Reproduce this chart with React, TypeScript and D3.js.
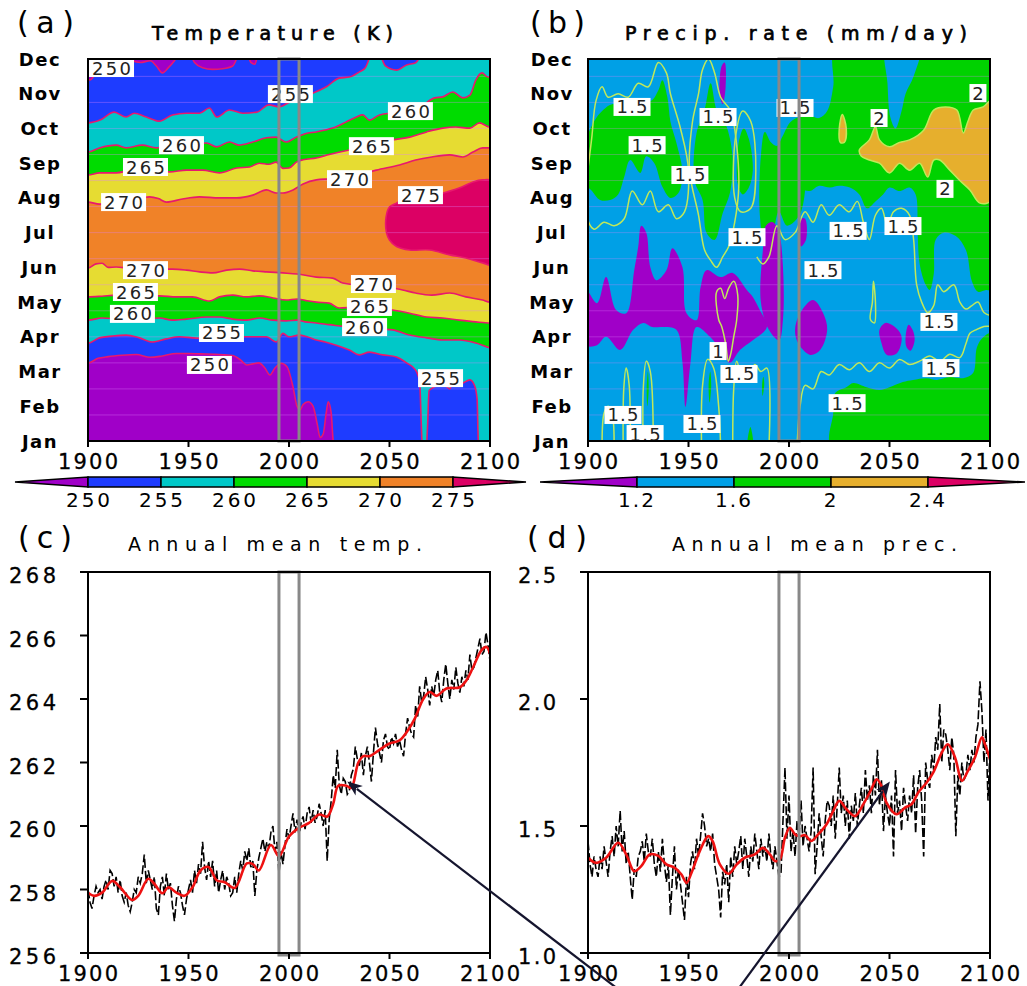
import React from 'react';
import * as d3 from 'd3';

type P = [number, number];

// ---------- axis / tick values ----------
const MONTHS = ['Jan', 'Feb', 'Mar', 'Apr', 'May', 'Jun', 'Jul', 'Aug', 'Sep', 'Oct', 'Nov', 'Dec'];
const YEAR_TICKS = [1900, 1950, 2000, 2050, 2100];
const TEMP_TICKS = [256, 258, 260, 262, 264, 266, 268];
const PREC_TICKS = [1.0, 1.5, 2.0, 2.5];
const PREC_TICK_LABELS = ['1.0', '1.5', '2.0', '2.5'];
const CB_A_LEVELS = [250, 255, 260, 265, 270, 275];
const CB_B_LEVELS = [1.2, 1.6, 2.0, 2.4];
const CB_B_LABELS = ['1.2', '1.6', '2', '2.4'];
const BOX_YEARS = [1995, 2005];

// ---------- colours ----------
const A_COLORS = ['#a000c8', '#1e3cff', '#00c8c8', '#00dc00', '#e6dc32', '#f08228', '#dc0064'];
const B_COLORS = ['#a000c8', '#00a0e6', '#00d200', '#e6af2d', '#dc0064'];

// ---------- (a) temperature contour boundaries [year, month] ----------
const T250S: P[] = [[1897,3.25],[1900,3.25],[1905,3.38],[1910,3.43],[1917,3.47],[1924,3.49],[1931,3.41],[1937,3.45],[1944,3.52],[1950,3.52],[1956,3.51],[1963,3.5],[1968,3.48],[1972,3.46],[1976,3.33],[1979,3.19],[1982,3.22],[1985,3.25],[1988,3.1],[1990.5,2.9],[1993,3.1],[1996,3.24],[1999,3.14],[2002,2.56],[2004,2.0],[2005.5,1.9],[2007,2.05],[2009.5,2.13],[2012,2.0],[2014,1.5],[2015.5,1.1],[2017,1.2],[2018.5,1.8],[2019.5,2.13],[2021,1.8],[2022,1.0],[2023,0.8],[2103,0.8]];
const T255S: P[] = [[1897,3.82],[1900,3.82],[1905.7,3.97],[1912,4.02],[1919,4.05],[1925.6,3.97],[1932,3.85],[1939,3.94],[1945.5,4.0],[1952,3.97],[1958,3.95],[1965,4.05],[1972,4.0],[1978.7,4.0],[1985.3,4.0],[1988.8,4.0],[1993.6,3.85],[1997,4.1],[2000,4.0],[2005,4.05],[2009,4.0],[2013.6,3.91],[2018,3.85],[2023.5,3.76],[2030,3.62],[2035,3.48],[2040,3.56],[2046.6,3.48],[2053.5,3.42],[2058.5,3.25],[2063,3.04],[2065,2.7],[2065.8,1.5],[2066.3,0.8],[2068.3,0.8],[2069,1.5],[2069.7,2.45],[2072,2.55],[2075,2.6],[2078,2.58],[2080,2.5],[2081,2.62],[2084,2.62],[2086.5,2.67],[2090,2.76],[2092.3,2.6],[2093.6,2.2],[2094,1.3],[2094.3,0.8],[2103,0.8]];
const T260S: P[] = [[1897,4.48],[1900,4.48],[1907,4.54],[1914,4.52],[1921,4.5],[1928,4.52],[1935.6,4.54],[1942,4.48],[1949,4.51],[1959,4.57],[1965.4,4.57],[1972,4.51],[1978.7,4.48],[1985.3,4.54],[1992,4.48],[1998.6,4.46],[2004,4.48],[2008,4.43],[2013.6,4.4],[2020,4.35],[2027,4.3],[2033,4.25],[2040,4.25],[2046,4.22],[2051.5,4.2],[2060,4.05],[2068.5,3.97],[2076.5,3.91],[2084.8,3.91],[2093,3.82],[2100,3.68],[2103,3.65]];
const T265S: P[] = [[1897,5.15],[1900,5.15],[1907,5.17],[1914,5.2],[1921,5.2],[1928,5.18],[1935.6,5.18],[1944,5.15],[1952,5.15],[1960.4,5.03],[1965.4,5.15],[1972,5.2],[1978.7,5.15],[1985.3,5.18],[1992,5.12],[1998.6,5.06],[2004,5.09],[2008,5.05],[2013.6,5.0],[2020,4.97],[2025,4.83],[2032,4.85],[2040,4.86],[2046,4.8],[2051.5,4.77],[2060,4.68],[2068.5,4.57],[2076.5,4.54],[2084.8,4.48],[2093,4.43],[2100,4.4],[2103,4.4]];
const T270S: P[] = [[1897,5.98],[1900,5.98],[1904,6.1],[1907,6.12],[1910,6.0],[1914,6.01],[1920,5.98],[1928,5.96],[1935,5.95],[1942,5.95],[1949,5.92],[1955.5,5.87],[1962,5.84],[1969,5.92],[1975.4,5.95],[1982,5.9],[1988.8,5.87],[1997,5.84],[2004,5.81],[2013.6,5.72],[2021.7,5.69],[2026.7,5.55],[2034,5.5],[2042,5.52],[2050,5.42],[2056.5,5.35],[2063,5.26],[2071,5.2],[2080,5.26],[2088,5.15],[2096.3,5.06],[2100,5.0],[2103,5.0]];
const T270A: P[] = [[1897,7.88],[1900,7.88],[1905.7,7.82],[1912,7.85],[1920,7.9],[1930.6,8.03],[1935,7.98],[1939,7.88],[1947,7.97],[1955.5,8.03],[1965.4,8.0],[1974,8.0],[1982,8.08],[1988.8,8.23],[1993.6,8.14],[1997,8.14],[2002,8.23],[2007,8.4],[2013.6,8.52],[2020,8.55],[2030,8.6],[2037,8.7],[2043.4,8.8],[2055,8.95],[2063,9.09],[2071,9.18],[2079.9,9.24],[2086.5,9.18],[2091.5,9.32],[2096.3,9.44],[2100,9.44],[2103,9.44]];
const T265A: P[] = [[1897,8.66],[1900,8.66],[1905.7,8.72],[1914,8.72],[1921,8.8],[1929,8.85],[1935,8.8],[1940.5,8.75],[1949,8.8],[1957,8.8],[1965.4,8.72],[1974,8.86],[1980.4,8.89],[1985.3,9.0],[1990,8.97],[1993.6,9.03],[1997,8.85],[2000,8.86],[2003.6,9.03],[2007,9.1],[2013.6,9.15],[2020,9.25],[2030,9.38],[2041,9.49],[2051.5,9.67],[2060,9.75],[2068.5,9.9],[2076.5,10.01],[2083,10.04],[2090,10.01],[2094.8,10.16],[2100,10.04],[2103,10.04]];
const T260A: P[] = [[1897,9.32],[1900,9.32],[1905.7,9.44],[1914,9.52],[1919,9.44],[1927,9.52],[1934,9.44],[1940,9.5],[1946,9.52],[1952,9.55],[1959,9.58],[1964,9.47],[1970.4,9.61],[1975,9.52],[1982,9.61],[1988.8,9.73],[1993.6,9.75],[1998.6,9.61],[2003.6,9.75],[2008,9.85],[2013.6,9.9],[2021.7,10.01],[2028.5,10.19],[2033.5,10.33],[2036.7,10.39],[2040,10.24],[2045,10.39],[2052,10.45],[2060,10.5],[2066,10.65],[2072.5,10.88],[2076.5,10.91],[2081.5,11.05],[2086.5,10.88],[2090,10.96],[2093,11.4],[2096,11.6],[2099,11.48],[2103,11.48]];
const T255A: P[] = [[1897,10.16],[1900,10.16],[1906,10.24],[1913,10.47],[1919,10.33],[1923,10.44],[1929,10.33],[1935.6,10.21],[1942,10.39],[1949,10.44],[1955.5,10.44],[1960.4,10.59],[1964,10.33],[1970.4,10.53],[1977,10.44],[1984,10.47],[1990,10.68],[1995,10.62],[2000,10.75],[2006,10.9],[2012,11.02],[2018.6,11.2],[2025,11.45],[2030,11.48],[2035,11.63],[2038,11.75],[2041,12.1],[2045,12.1],[2048,11.8],[2053.5,11.68],[2058.5,11.83],[2063,11.89],[2066,12.1],[2103,12.1]];
const T250A: P[] = [[1897,11.4],[1901,11.4],[1904,11.7],[1906,12.2],[1920,12.2],[1922,11.95],[1926,11.9],[1931,11.95],[1934,11.8],[1937,11.6],[1940,11.75],[1943,11.95],[1946,12.2],[1950,12.2],[1953,11.9],[1957,11.75],[1962,11.7],[1967,11.72],[1972,11.8],[1976,12.2],[1979,12.2],[1981,11.9],[1983,11.85],[1985,12.2],[2103,12.2]];
const T275: P[] = [[2048.5,7.0],[2048.3,7.45],[2050,7.74],[2053.5,7.85],[2060,8.03],[2070,8.03],[2078.5,8.17],[2085,8.29],[2091.5,8.46],[2096.3,8.52],[2102,8.46],[2102,6.07],[2096.3,6.13],[2088,6.27],[2080,6.36],[2070,6.5],[2060,6.5],[2053.5,6.6],[2050,6.79]];

// labels on (a): [year, month, text]
const A_LABELS: [number, number, string][] = [
  [1911.7,11.74,'250'],[2000.7,10.99,'255'],[2060.4,10.5,'260'],[1946.5,9.52,'260'],[1928.6,8.89,'265'],[2041,9.49,'265'],
  [1917.7,7.88,'270'],[2030.1,8.54,'270'],[2065.4,8.08,'275'],[1928.6,5.92,'270'],[1923.6,5.29,'265'],[1922.1,4.66,'260'],
  [1966.4,4.11,'255'],[1960.4,3.19,'250'],[2042,5.52,'270'],[2040,4.86,'265'],[2037.6,4.28,'260'],[2075.4,2.81,'255'],
];

// ---------- (b) precipitation regions [year, month] ----------
const B_GREEN: P[][] = [
  [[1899,8.4],[1899,9.6],[1903,10.2],[1907.5,10.53],[1912,10.7],[1916,10.62],[1922,10.53],[1927,10.7],[1932,10.82],[1935,11.1],[1937,11.39],[1939.5,10.9],[1941,10.2],[1944,9.58],[1947,8.72],[1945,8.14],[1941,8.0],[1937,8.32],[1933,9.0],[1929,9.2],[1926,8.72],[1921,9.09],[1918,8.6],[1915,8.1],[1911,7.94],[1906,7.94],[1902,8.2]],
  [[1953,8.5],[1954,9.87],[1958,10.53],[1961,11.3],[1964,10.53],[1969,10.04],[1972,9.09],[1970.6,8.14],[1967,7.56],[1963,6.79],[1959,6.99],[1957,7.94]],
  [[1974.5,8.4],[1975,9.6],[1977.5,10.0],[1980,9.7],[1982,8.8],[1980,8.3],[1977,8.1]],
  [[1985.5,7.5],[1986,9.2],[1988,9.9],[1991,9.6],[1994,9.5],[1997,9.8],[2001,10.2],[2006,10.3],[2006,7.6],[1999,7.2],[1995,7.6],[1991,6.8],[1988,6.7]],
  [[2024,12.4],[2101,12.4],[2101,5.35],[2098,5.35],[2094,5.3],[2091,5.6],[2088,6.5],[2083,6.9],[2077,7.0],[2073,6.8],[2072,5.8],[2070,5.35],[2068,5.5],[2065,6.1],[2064,7.0],[2063,8.1],[2060,8.3],[2055,8.2],[2050,8.3],[2046.8,8.1],[2043,7.9],[2038.8,7.7],[2035,8.1],[2030.3,8.3],[2025,8.35],[2020.4,8.3],[2015,8.35],[2010.4,8.2],[2006,8.3],[2006,10.6],[2010,10.4],[2015,10.3],[2019,10.5],[2022,11.2]],
  [[2021.5,0.8],[2022,1.8],[2023,2.38],[2028.5,2.55],[2032,2.67],[2038.6,2.55],[2045,2.47],[2050,2.55],[2056.6,2.7],[2061.7,2.76],[2068.5,2.81],[2073.6,2.76],[2080,2.84],[2086.6,2.81],[2091.6,2.96],[2093.5,3.7],[2096.6,3.99],[2101,4.1],[2101,0.8]],
  [[1929.5,2.0],[1930.2,2.5],[1929.8,3.0],[1929.2,2.5]],
  [[1960.5,2.1],[1961.3,2.6],[1960.8,3.0],[1960.0,2.6]],
  [[1979.5,0.8],[1980.8,1.4],[1982,0.8]],
  [[1986.9,2.3],[1987.7,2.65],[1987.2,2.85],[1986.6,2.6]],
];
const B_BLUE_HOLES: P[][] = [
  [[2048.5,12.4],[2049,11.3],[2050.5,10.3],[2053,10.0],[2056,10.5],[2058,11.0],[2062,11.5],[2065,12.4]],
];
const B_ORANGE: P[][] = [
  [[2035,9.38],[2040,9.67],[2043,10.05],[2045,9.67],[2050,9.47],[2055,9.6],[2060,9.67],[2067,9.95],[2072,10.53],[2078,10.62],[2083.5,10.53],[2086.7,9.87],[2089,10.2],[2091.7,10.53],[2096.6,10.62],[2101,10.82],[2101,7.94],[2095,7.85],[2090,8.23],[2085,8.5],[2080,8.8],[2075,9.09],[2072,9.09],[2069,8.6],[2065,9.0],[2060,8.8],[2055,9.0],[2050,8.72],[2045,9.0],[2040,9.09],[2036,9.2]],
  [[2025,10.0],[2026.5,10.4],[2028.5,10.0],[2027.5,9.6],[2025.5,9.6]],
];
const B_PURPLE: P[][] = [
  [[1899,5.35],[1904.5,4.97],[1909,5.72],[1914,4.77],[1919,4.68],[1923,5.92],[1925,6.6],[1926.5,7.2],[1929,7.0],[1931,6.0],[1934,5.63],[1939,5.92],[1942,6.55],[1947,6.0],[1949,4.68],[1954,4.48],[1956,5.43],[1959,5.92],[1966,5.72],[1972,5.84],[1979,5.35],[1982,5.15],[1985.5,4.77],[1989,4.28],[1982,3.9],[1975.6,3.62],[1970.6,3.25],[1967,3.53],[1960.7,4.0],[1954,4.28],[1951,3.25],[1948.5,1.98],[1947,3.25],[1944,4.2],[1937,4.28],[1932,4.28],[1927.5,4.4],[1922.5,4.2],[1916,3.62],[1909,4.0],[1904.5,3.76],[1899,3.76]],
  [[1986,5.0],[1987,6.5],[1988.5,7.2],[1992,7.3],[1995,7.0],[1997,6.0],[1997,4.5],[1995,3.9],[1990,4.2]],
  [[2003,4.2],[2005.5,4.68],[2012,5.06],[2017,4.68],[2019,4.2],[2015.5,3.62],[2010.5,3.48],[2004.5,3.82]],
  [[2045,4.2],[2048,4.4],[2052.7,4.28],[2056,4.0],[2053.7,3.53],[2048.7,3.48],[2046,3.82]],
  [[2058,4.0],[2059.5,4.35],[2061.5,4.2],[2062.5,3.9],[2060.5,3.6],[2058.5,3.7]],
  [[1965.5,11.0],[1966.5,11.8],[1968,11.9],[1968.5,11.2],[1967,10.7]],
  [[2005,7.0],[2006,7.4],[2008,7.4],[2008.5,6.8],[2006,6.6]],
];
// 1.5 / 1 contour lines (closed loops and open lines)
const B_LOOPS: P[][] = [
  [[1899,7.6],[1902,9.8],[1904,10.8],[1907,11.2],[1910,10.9],[1915,11.0],[1920,10.9],[1925,11.3],[1930,11.2],[1935,11.9],[1939,11.6],[1941,11.0],[1946,10.0],[1950,8.8],[1948,7.6],[1944,7.4],[1940,7.8],[1935,7.6],[1931,8.2],[1927,7.8],[1922,8.2],[1918,7.4],[1913,7.2],[1908,7.3],[1903,7.1]],
  [[1950.5,8.8],[1952,10.2],[1955,11.0],[1957,11.7],[1960,12.0],[1963,11.6],[1966,10.9],[1971,10.5],[1974,9.5],[1975,8.3],[1973,7.3],[1970,6.6],[1967,6.3],[1964,6.0],[1961,6.2],[1958,6.5],[1955,7.5]],
  [[1973,8.0],[1973.5,9.8],[1977,10.5],[1981,10.2],[1983.5,8.8],[1981,7.7],[1976,7.6]],
  [[1964,5.3],[1966,5.4],[1968,5.1],[1970,5.4],[1972.5,5.6],[1974.5,5.2],[1974,4.5],[1972.5,4.0],[1971,3.5],[1969.8,3.3],[1968.5,3.8],[1966.5,4.3],[1965,4.5]],
  [[2040.5,4.5],[2041.5,5.0],[2042,5.6],[2043,5.0],[2042.5,4.4]],
];
const B_LINES: P[][] = [
  [[1984,6.3],[1987,6.1],[1990,6.3],[1994,7.2],[1998,6.8],[2003,7.0],[2008,7.6],[2012,7.3],[2016,7.8],[2020,7.5],[2025,7.8],[2030,7.6],[2034,7.9],[2037,7.3],[2040,6.8],[2043,7.5],[2046,7.7],[2049,7.2],[2052,7.6],[2056,7.7],[2060,7.5],[2062,6.8],[2063.5,5.5],[2066,5.0],[2069,4.7],[2072,4.9],[2074,5.5],[2077,5.3],[2082,5.5],[2085,5.0],[2088,4.8],[2091,4.9],[2094,5.0],[2097,4.7],[2101,4.6]],
  [[2004,0.8],[2005.5,2.0],[2008,2.6],[2012,2.5],[2016,3.0],[2020,2.9],[2025,3.2],[2030,3.05],[2035,3.25],[2040,3.0],[2045,3.25],[2050,3.1],[2055,3.35],[2060,3.2],[2065,3.3],[2070,3.45],[2075,3.3],[2080,3.5],[2085,3.4],[2088,3.8],[2090,4.1],[2093,4.2],[2097,4.3],[2101,4.3]],
  [[1907,0.8],[1908,1.8],[1910,2.0],[1912,1.8],[1913,0.8]],
  [[1917.5,0.8],[1917.8,2.5],[1919,3.1],[1920.5,2.6],[1921,0.8]],
  [[1927.5,0.8],[1927.5,2.5],[1929,3.3],[1931,3.0],[1932.5,0.8]],
  [[1956.5,0.8],[1957,2.6],[1959.5,3.35],[1962.5,3.1],[1965,2.0],[1966,0.8]],
  [[1972,0.8],[1972.5,2.5],[1974,3.3],[1977,2.8],[1980,2.9],[1983,3.2],[1986,3.0],[1989,3.1],[1990,0.8]],
];
const B_LABELS: [number, number, string][] = [
  [1921.9,10.62,'1.5'],[1964.7,10.33,'1.5'],[1929.4,9.52,'1.5'],[1950.7,8.66,'1.5'],[1979.1,6.87,'1.5'],[2003,10.59,'1.5'],
  [2044.8,10.3,'2'],[2094,11.02,'2'],[2077.6,8.26,'2'],[2029.4,7.05,'1.5'],[2056.7,7.19,'1.5'],[2016.9,5.92,'1.5'],
  [2074.6,4.43,'1.5'],[2075.6,3.1,'1.5'],[2028.9,2.09,'1.5'],[1964.7,3.59,'1'],[1975.1,2.93,'1.5'],[1917.4,1.75,'1.5'],
  [1928.4,1.2,'1.5'],[1956.7,1.49,'1.5'],
];

// ---------- (c) annual mean temperature ----------
const TEMP_ANNUAL = [
  258.0,257.6,257.4,257.8,258.1,257.9,258.0,257.7,258.1,258.3,
  258.0,258.6,258.5,258.1,258.4,257.9,258.3,257.8,257.6,257.9,
  257.5,257.3,257.6,258.0,257.9,258.4,258.2,258.5,259.1,258.2,
  258.6,258.3,258.0,258.4,257.4,257.2,258.1,258.4,257.8,258.5,
  258.0,258.2,257.5,257.0,257.7,258.1,257.9,257.5,257.2,257.7,
  258.0,258.3,257.9,258.6,258.2,258.8,258.5,259.5,258.7,258.3,
  258.9,258.4,258.9,258.1,258.6,257.9,258.3,258.6,258.0,258.4,
  258.2,257.8,257.9,258.4,257.9,258.5,258.9,258.6,259.2,258.9,
  259.3,258.7,258.9,257.8,258.6,259.0,259.3,259.6,259.2,259.5,
  259.3,259.8,260.0,259.2,259.5,258.5,259.2,258.8,259.4,259.9,
  259.6,260.0,260.4,259.8,260.2,259.7,260.1,260.3,259.9,260.4,
  260.6,260.1,260.5,260.1,260.3,260.7,260.4,260.0,260.5,258.9,
  260.2,260.8,261.6,261.2,262.4,261.3,261.0,261.5,261.4,261.0,
  261.1,261.6,261.8,262.5,262.1,261.9,262.3,261.6,262.2,262.5,
  262.0,261.4,262.3,263.1,262.6,262.3,262.0,262.7,262.9,262.5,
  262.4,262.8,262.6,262.9,262.5,262.7,262.4,262.2,262.9,263.4,
  263.1,262.9,262.8,263.8,263.4,264.4,263.9,264.1,264.7,264.3,
  263.8,264.4,264.1,264.6,264.9,264.2,263.9,264.6,265.1,264.5,
  264.0,264.6,264.3,265.0,264.5,264.2,264.7,264.4,264.9,264.6,
  265.4,264.9,265.0,265.3,265.6,265.9,265.4,265.5,266.1,265.7,
  265.2,
];
const TEMP_SMOOTH: P[] = [[1900,257.9],[1903,257.8],[1907,257.9],[1912,258.27],[1916,258.07],[1922,257.67],[1925,257.8],[1930,258.34],[1933,258.18],[1937,257.88],[1940,258.07],[1944,257.9],[1948,257.8],[1952,258.07],[1956,258.6],[1960,258.71],[1964,258.29],[1968,258.23],[1973,258.05],[1979,258.82],[1982,258.8],[1985,258.6],[1991,259.4],[1995,259.05],[2000,259.67],[2005,259.94],[2010,260.1],[2015,260.36],[2019,260.3],[2022,260.7],[2024.5,261.27],[2028.5,261.27],[2031,261.2],[2034.5,262.0],[2037,262.2],[2040,262.2],[2045,262.4],[2050,262.6],[2055,262.7],[2059,263.0],[2062.7,263.4],[2066.8,264.0],[2070,264.22],[2073.4,264.1],[2078.3,264.33],[2085,264.37],[2088.3,264.59],[2091.6,265.0],[2095.8,265.54],[2098.3,265.64],[2100,265.43]];

// ---------- (d) annual mean precipitation ----------
const PREC_ANNUAL = [
  1.44,1.35,1.30,1.38,1.33,1.30,1.38,1.33,1.42,1.36,
  1.30,1.40,1.46,1.38,1.50,1.42,1.56,1.40,1.48,1.35,
  1.40,1.30,1.21,1.33,1.30,1.38,1.40,1.44,1.36,1.47,
  1.40,1.38,1.45,1.35,1.30,1.40,1.32,1.45,1.35,1.28,
  1.35,1.15,1.30,1.42,1.25,1.33,1.27,1.20,1.13,1.30,
  1.22,1.35,1.40,1.33,1.45,1.38,1.46,1.55,1.50,1.42,
  1.45,1.40,1.47,1.35,1.30,1.25,1.14,1.32,1.27,1.35,
  1.20,1.38,1.30,1.42,1.35,1.40,1.46,1.33,1.45,1.38,
  1.30,1.42,1.36,1.47,1.40,1.33,1.45,1.38,1.42,1.36,
  1.47,1.38,1.33,1.42,1.36,1.30,1.31,1.52,1.73,1.45,
  1.62,1.40,1.48,1.38,1.52,1.46,1.60,1.42,1.50,1.45,
  1.40,1.48,1.73,1.31,1.42,1.55,1.46,1.38,1.52,1.60,
  1.58,1.50,1.62,1.45,1.58,1.73,1.55,1.62,1.50,1.60,
  1.45,1.58,1.52,1.63,1.50,1.58,1.65,1.55,1.72,1.60,
  1.66,1.55,1.70,1.62,1.80,1.58,1.68,1.48,1.62,1.55,
  1.50,1.62,1.38,1.72,1.55,1.60,1.48,1.65,1.58,1.52,
  1.62,1.55,1.70,1.47,1.65,1.72,1.60,1.38,1.75,1.68,
  1.65,1.78,1.72,1.85,1.80,1.98,1.75,1.88,1.86,1.80,
  1.72,1.85,1.78,1.46,1.70,1.62,1.75,1.68,1.70,1.78,
  1.72,1.80,1.75,1.85,1.90,2.07,1.95,1.75,1.88,1.60,
  1.80,
];
const PREC_SMOOTH: P[] = [[1900,1.375],[1904,1.355],[1909,1.375],[1915,1.434],[1919,1.388],[1923,1.322],[1926.5,1.342],[1930.7,1.388],[1935,1.382],[1939,1.349],[1943,1.336],[1946.5,1.309],[1949,1.276],[1951.5,1.316],[1955.6,1.401],[1959.8,1.46],[1962,1.44],[1965.6,1.349],[1970,1.312],[1974,1.349],[1978,1.375],[1983,1.388],[1987,1.414],[1990.5,1.388],[1993,1.362],[1995.4,1.368],[1998,1.454],[2000.4,1.493],[2003,1.467],[2005.4,1.46],[2008,1.464],[2011,1.441],[2014.5,1.467],[2018.7,1.507],[2022,1.559],[2025,1.599],[2028.6,1.566],[2032.8,1.539],[2037,1.586],[2041,1.645],[2043.6,1.684],[2046,1.658],[2048.5,1.592],[2053.5,1.546],[2057.7,1.572],[2061,1.586],[2064.3,1.632],[2068.5,1.671],[2071.8,1.711],[2076,1.789],[2079,1.822],[2082.6,1.77],[2086,1.678],[2089,1.717],[2092.5,1.77],[2096,1.849],[2097.5,1.822],[2100,1.763]];

// arrows (data coordinates of the panel they point into): [from, to]
const ARROW_C: P[] = [[2165, 254.8], [2029, 261.4]];
const ARROW_D: P[] = [[1974, 0.85], [2050.2, 1.675]];

// ---------- layout ----------
const W = 1027, H = 986;
const PA = { x0: 88, x1: 490, y0: 59, y1: 441 };
const PB = { x0: 588, x1: 990, y0: 59, y1: 441 };
const PC = { x0: 88, x1: 490, y0: 572, y1: 953 };
const PD = { x0: 588, x1: 990, y0: 572, y1: 953 };
const FONT = "'DejaVu Sans', Verdana, sans-serif";
const GRID_MONTHS = d3.range(1.75, 12, 0.75);

const xA = d3.scaleLinear().domain([1900, 2100]).range([PA.x0, PA.x1]);
const xB = d3.scaleLinear().domain([1900, 2100]).range([PB.x0, PB.x1]);
const yM = d3.scaleLinear().domain([1, 12]).range([PA.y1, PA.y0]);
const xC = d3.scaleLinear().domain([1900, 2100]).range([PC.x0, PC.x1]);
const xD = d3.scaleLinear().domain([1900, 2100]).range([PD.x0, PD.x1]);
const yT = d3.scaleLinear().domain([256, 268]).range([PC.y1, PC.y0]);
const yP = d3.scaleLinear().domain([1.0, 2.5]).range([PD.y1, PD.y0]);
const cbA = d3.scaleLinear().domain([250, 275]).range([88, 453]);
const cbB = d3.scaleLinear().domain([1.2, 2.4]).range([637, 928]);

function labelBox(x: number, y: number, t: string, key: string) {
  const w = t.length === 1 ? 17 : t.includes('.') ? 37 : 45;
  return (
    <g key={key}>
      <rect x={x - w / 2} y={y - 9} width={w} height={18} fill="#fff" />
      <text x={x} y={y + 6.5} textAnchor="middle" fontSize={18} fontFamily={FONT} fill="#222"
        textLength={w - 6} lengthAdjust="spacing">{t}</text>
    </g>
  );
}

function MonthAxis({ cx }: { cx: number }) {
  return (
    <g>
      {MONTHS.map((m, i) => (
        <text key={m} x={cx} y={yM(i + 1) + 6.5} textAnchor="middle" fontSize={18} fontWeight="bold"
          fontFamily={FONT} letterSpacing={1.5} fill="#000">{m}</text>
      ))}
    </g>
  );
}

function YearAxis({ x, y }: { x: d3.ScaleLinear<number, number>; y: number }) {
  return (
    <g>
      {YEAR_TICKS.map((t) => (
        <g key={t}>
          <line x1={x(t)} x2={x(t)} y1={y} y2={y + 6} stroke="#000" strokeWidth={2} />
          <text x={x(t)} y={y + 28} textAnchor="middle" fontSize={21} fontFamily={FONT} fill="#000"
            textLength={60} lengthAdjust="spacing" stroke="#000" strokeWidth={0.3}>{t}</text>
        </g>
      ))}
    </g>
  );
}

function GrayBox({ x, y0, y1 }: { x: d3.ScaleLinear<number, number>; y0: number; y1: number }) {
  return (
    <rect x={x(BOX_YEARS[0])} y={y0} width={x(BOX_YEARS[1]) - x(BOX_YEARS[0])} height={y1 - y0}
      fill="none" stroke="#888" strokeWidth={3} />
  );
}

function PanelA() {
  const above = (pts: P[]) => d3.area<P>().x(d => xA(d[0])).y0(yM(12.8)).y1(d => yM(d[1])).curve(d3.curveMonotoneX)(pts) || '';
  const below = (pts: P[]) => d3.area<P>().x(d => xA(d[0])).y0(yM(0.2)).y1(d => yM(d[1])).curve(d3.curveMonotoneX)(pts) || '';
  const line = d3.line<P>().x(d => xA(d[0])).y(d => yM(d[1])).curve(d3.curveMonotoneX);
  const closed = d3.line<P>().x(d => xA(d[0])).y(d => yM(d[1])).curve(d3.curveCatmullRomClosed.alpha(0.5));
  const C = A_COLORS;
  const bounds = [T250S, T255S, T260S, T265S, T270S, T270A, T265A, T260A, T255A, T250A];
  return (
    <g>
      <defs>
        <clipPath id="clipA"><rect x={PA.x0} y={PA.y0} width={PA.x1 - PA.x0} height={PA.y1 - PA.y0} /></clipPath>
      </defs>
      <g clipPath="url(#clipA)">
        <rect x={PA.x0} y={PA.y0} width={PA.x1 - PA.x0} height={PA.y1 - PA.y0} fill={C[1]} />
        <path d={above(T255S)} fill={C[2]} />
        <path d={above(T260S)} fill={C[3]} />
        <path d={above(T265S)} fill={C[4]} />
        <path d={above(T270S)} fill={C[5]} />
        <path d={above(T270A)} fill={C[4]} />
        <path d={above(T265A)} fill={C[3]} />
        <path d={above(T260A)} fill={C[2]} />
        <path d={above(T255A)} fill={C[1]} />
        <path d={above(T250A)} fill={C[0]} />
        <path d={below(T250S)} fill={C[0]} />
        <path d={closed(T275) || ''} fill={C[6]} />
        {GRID_MONTHS.map((m) => (
          <line key={m} x1={PA.x0} x2={PA.x1} y1={yM(m)} y2={yM(m)} stroke="#e080ff" strokeOpacity={0.35} strokeWidth={1} />
        ))}
        {bounds.map((b, i) => (
          <path key={i} d={line(b) || ''} fill="none" stroke="#e8186e" strokeWidth={1.6} />
        ))}
        <path d={closed(T275) || ''} fill="none" stroke="#e8186e" strokeWidth={1.6} />
      </g>
      {A_LABELS.map((l, i) => labelBox(xA(l[0]), yM(l[1]), l[2], 'a' + i))}
      <GrayBox x={xA} y0={PA.y0} y1={PA.y1} />
      <rect x={PA.x0} y={PA.y0} width={PA.x1 - PA.x0} height={PA.y1 - PA.y0} fill="none" stroke="#000" strokeWidth={2} />
      <MonthAxis cx={40} />
      <YearAxis x={xA} y={PA.y1} />
    </g>
  );
}

function PanelB() {
  const closed = d3.line<P>().x(d => xB(d[0])).y(d => yM(d[1])).curve(d3.curveCatmullRomClosed.alpha(0.5));
  const open = d3.line<P>().x(d => xB(d[0])).y(d => yM(d[1])).curve(d3.curveCatmullRom.alpha(0.5));
  const C = B_COLORS;
  const lc = '#c0e85a';
  return (
    <g>
      <defs>
        <clipPath id="clipB"><rect x={PB.x0} y={PB.y0} width={PB.x1 - PB.x0} height={PB.y1 - PB.y0} /></clipPath>
      </defs>
      <g clipPath="url(#clipB)">
        <rect x={PB.x0} y={PB.y0} width={PB.x1 - PB.x0} height={PB.y1 - PB.y0} fill={C[1]} />
        {B_GREEN.map((p, i) => <path key={'g' + i} d={closed(p) || ''} fill={C[2]} />)}
        {B_BLUE_HOLES.map((p, i) => <path key={'h' + i} d={closed(p) || ''} fill={C[1]} />)}
        {B_ORANGE.map((p, i) => <path key={'o' + i} d={closed(p) || ''} fill={C[3]} />)}
        {B_PURPLE.map((p, i) => <path key={'p' + i} d={closed(p) || ''} fill={C[0]} />)}
        {GRID_MONTHS.map((m) => (
          <line key={m} x1={PB.x0} x2={PB.x1} y1={yM(m)} y2={yM(m)} stroke="#e080ff" strokeOpacity={0.3} strokeWidth={1} />
        ))}
        {B_ORANGE.map((p, i) => <path key={'ol' + i} d={closed(p) || ''} fill="none" stroke={lc} strokeWidth={1.5} />)}
        {B_LOOPS.map((p, i) => <path key={'l' + i} d={closed(p) || ''} fill="none" stroke={lc} strokeWidth={1.5} />)}
        {B_LINES.map((p, i) => <path key={'n' + i} d={open(p) || ''} fill="none" stroke={lc} strokeWidth={1.5} />)}
      </g>
      {B_LABELS.map((l, i) => labelBox(xB(l[0]), yM(l[1]), l[2], 'b' + i))}
      <GrayBox x={xB} y0={PB.y0} y1={PB.y1} />
      <rect x={PB.x0} y={PB.y0} width={PB.x1 - PB.x0} height={PB.y1 - PB.y0} fill="none" stroke="#000" strokeWidth={2} />
      <MonthAxis cx={552} />
      <YearAxis x={xB} y={PB.y1} />
    </g>
  );
}

function ColorbarA() {
  const y0 = 477, y1 = 487, ym = 482;
  const C = A_COLORS;
  const segs = d3.range(CB_A_LEVELS.length - 1);
  return (
    <g>
      <path d={`M${cbA(245)},${ym}L${cbA(250)},${y0}L${cbA(250)},${y1}Z`} fill={C[0]} stroke="#000" strokeWidth={1.5} />
      {segs.map((i) => (
        <rect key={i} x={cbA(CB_A_LEVELS[i])} y={y0} width={cbA(CB_A_LEVELS[i + 1]) - cbA(CB_A_LEVELS[i])} height={y1 - y0}
          fill={C[i + 1]} stroke="#000" strokeWidth={1.5} />
      ))}
      <path d={`M${cbA(280)},${ym}L${cbA(275)},${y0}L${cbA(275)},${y1}Z`} fill={C[6]} stroke="#000" strokeWidth={1.5} />
      {CB_A_LEVELS.map((v) => (
        <text key={v} x={cbA(v)} y={507} textAnchor="middle" fontSize={20} fontFamily={FONT} textLength={44} lengthAdjust="spacing">{v}</text>
      ))}
    </g>
  );
}

function ColorbarB() {
  const y0 = 477, y1 = 487, ym = 482;
  const C = B_COLORS;
  const segs = d3.range(CB_B_LEVELS.length - 1);
  return (
    <g>
      <path d={`M${cbB(0.8)},${ym}L${cbB(1.2)},${y0}L${cbB(1.2)},${y1}Z`} fill={C[0]} stroke="#000" strokeWidth={1.5} />
      {segs.map((i) => (
        <rect key={i} x={cbB(CB_B_LEVELS[i])} y={y0} width={cbB(CB_B_LEVELS[i + 1]) - cbB(CB_B_LEVELS[i])} height={y1 - y0}
          fill={C[i + 1]} stroke="#000" strokeWidth={1.5} />
      ))}
      <path d={`M${cbB(2.8)},${ym}L${cbB(2.4)},${y0}L${cbB(2.4)},${y1}Z`} fill={C[4]} stroke="#000" strokeWidth={1.5} />
      {CB_B_LEVELS.map((v, i) => (
        <text key={v} x={cbB(v)} y={507} textAnchor="middle" fontSize={20} fontFamily={FONT} letterSpacing={2}>{CB_B_LABELS[i]}</text>
      ))}
    </g>
  );
}

function LinePanel({ x, y, P0, annual, smooth, ticks, tickLabels, labelRight, labelW, clipId }: any) {
  const years = d3.range(1900, 2101);
  const black = d3.line<number>().x((_, i) => x(years[i])).y(v => y(v));
  const red = d3.line<P>().x(d => x(d[0])).y(d => y(d[1])).curve(d3.curveCatmullRom.alpha(0.5));
  return (
    <g>
      <defs>
        <clipPath id={clipId}><rect x={P0.x0} y={P0.y0} width={P0.x1 - P0.x0} height={P0.y1 - P0.y0} /></clipPath>
      </defs>
      <g clipPath={`url(#${clipId})`}>
        <path d={black(annual) || ''} fill="none" stroke="#000" strokeWidth={1.6} strokeDasharray="9,3" />
        <path d={red(smooth) || ''} fill="none" stroke="#ee1111" strokeWidth={2.6} />
      </g>
      <GrayBox x={x} y0={P0.y0} y1={P0.y1 + 2} />
      <rect x={P0.x0} y={P0.y0} width={P0.x1 - P0.x0} height={P0.y1 - P0.y0} fill="none" stroke="#000" strokeWidth={2} />
      {ticks.map((t: number, i: number) => (
        <g key={t}>
          <line x1={P0.x0 - 8} x2={P0.x0} y1={y(t)} y2={y(t)} stroke="#000" strokeWidth={2} />
          <text x={labelRight} y={y(t) + 11} textAnchor="end" fontSize={21} fontFamily={FONT}
            textLength={labelW} lengthAdjust="spacing" stroke="#000" strokeWidth={0.3}>{tickLabels[i]}</text>
        </g>
      ))}
      <YearAxis x={x} y={P0.y1} />
    </g>
  );
}

function Arrow({ pts, x, y }: { pts: P[]; x: any; y: any }) {
  const [a, b] = pts;
  const x1 = x(a[0]), y1 = y(a[1]), x2 = x(b[0]), y2 = y(b[1]);
  const ang = Math.atan2(y2 - y1, x2 - x1);
  const L = 15, Wd = 6;
  const bx = x2 - L * Math.cos(ang), by = y2 - L * Math.sin(ang);
  const px = -Math.sin(ang) * Wd, py = Math.cos(ang) * Wd;
  return (
    <g>
      <line x1={x1} y1={y1} x2={bx + 3 * Math.cos(ang)} y2={by + 3 * Math.sin(ang)} stroke="#15152e" strokeWidth={2.2} />
      <path d={`M${x2},${y2}L${bx + px},${by + py}L${bx + 4 * Math.cos(ang)},${by + 4 * Math.sin(ang)}L${bx - px},${by - py}Z`} fill="#15152e" />
    </g>
  );
}

function Title({ x, y, t, size, w, sw }: any) {
  return (
    <text x={x} y={y} fontSize={size} fontFamily={FONT} textLength={w} lengthAdjust="spacing" fill="#000"
      stroke="#000" strokeWidth={sw || 0}>{t}</text>
  );
}

export default function App() {
  return (
    <div style={{ position: 'absolute', left: 0, top: 0, width: W, height: H, overflow: 'hidden', background: '#fff' }}>
      <style>{`body{margin:0;overflow:hidden;}`}</style>
      <svg width={W} height={H} viewBox={`0 0 ${W} ${H}`} style={{ display: 'block' }}>
        <rect width={W} height={H} fill="#fff" />
        <Title x={17} y={33} t="(a)" size={30} w={57} />
        <Title x={152} y={40} t="Temperature (K)" size={19} w={241} sw={0.7} />
        <Title x={530} y={33} t="(b)" size={30} w={55} />
        <Title x={625} y={40} t="Precip. rate (mm/day)" size={19} w={342} sw={0.7} />
        <Title x={18} y={548} t="(c)" size={30} w={54} />
        <Title x={128} y={551} t="Annual mean temp." size={19} w={294} />
        <Title x={527} y={548} t="(d)" size={30} w={60} />
        <Title x={672} y={551} t="Annual mean prec." size={19} w={285} />
        <PanelA />
        <PanelB />
        <ColorbarA />
        <ColorbarB />
        <LinePanel x={xC} y={yT} P0={PC} annual={TEMP_ANNUAL} smooth={TEMP_SMOOTH} ticks={TEMP_TICKS}
          tickLabels={TEMP_TICKS.map(String)} labelRight={56} labelW={47} clipId="clipC" />
        <LinePanel x={xD} y={yP} P0={PD} annual={PREC_ANNUAL} smooth={PREC_SMOOTH} ticks={PREC_TICKS}
          tickLabels={PREC_TICK_LABELS} labelRight={556} labelW={38} clipId="clipD" />
        <Arrow pts={ARROW_C} x={xC} y={yT} />
        <Arrow pts={ARROW_D} x={xD} y={yP} />
      </svg>
    </div>
  );
}
